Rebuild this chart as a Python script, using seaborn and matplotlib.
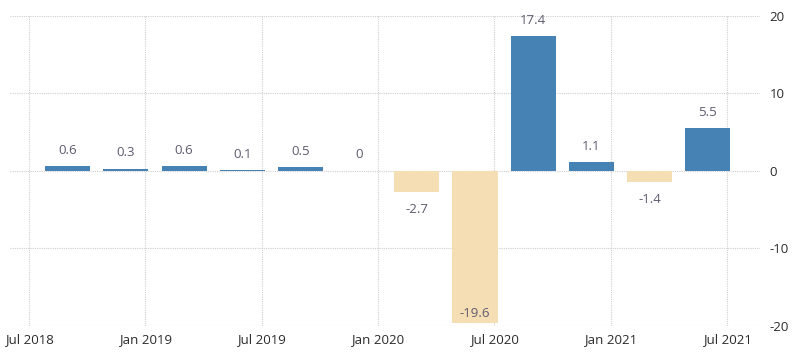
import matplotlib
matplotlib.use("Agg")
import matplotlib.pyplot as plt
import seaborn as sns
import pandas as pd

# Data
quarters = ["2018Q3", "2018Q4", "2019Q1", "2019Q2", "2019Q3", "2019Q4",
            "2020Q1", "2020Q2", "2020Q3", "2020Q4", "2021Q1", "2021Q2"]
values = [0.6, 0.3, 0.6, 0.1, 0.5, 0.0, -2.7, -19.6, 17.4, 1.1, -1.4, 5.5]
tick_labels = ["Jul 2018", "Jan 2019", "Jul 2019", "Jan 2020", "Jul 2020", "Jan 2021", "Jul 2021"]
y_ticks = [-20, -10, 0, 10, 20]

# months since Jul 2018 (bars sit two months after the quarter start)
months = [2 + 3 * i for i in range(len(values))]
df = pd.DataFrame({"month": months, "value": values,
                   "sign": ["pos" if v >= 0 else "neg" for v in values]})

sns.set_theme(style="white")
plt.rcParams['font.family'] = ['Open Sans', 'DejaVu Sans']
plt.rcParams['axes.unicode_minus'] = False

fig = plt.figure(figsize=(8, 3.55), dpi=100)
ax = fig.add_axes([0.0125, 0.082, 0.9375, 0.873])

sns.barplot(data=df, x="month", y="value", hue="sign", native_scale=True,
            palette={"pos": "#4682b4", "neg": "#f5deb3"}, dodge=False,
            width=0.775, legend=False, ax=ax, linewidth=0, saturation=1)

lab_kw = dict(textcoords="offset points", ha="center", va="center",
              fontsize=9.5, color="#5f5a6e")
for m, v in zip(months, values):
    if v >= 0:
        ax.annotate(f"{v:g}", (m, v), xytext=(0, 11.5), **lab_kw)
    elif v > -17:
        ax.annotate(f"{v:g}", (m, v), xytext=(0, -12.5), **lab_kw)
    else:
        ax.annotate(f"{v:g}", (m, v), xytext=(0, 7), **lab_kw)

ax.set_xlim(-0.98, 37.7)
ax.set_ylim(-20, 20)
ax.set_xticks(list(range(0, 37, 6)))
ax.set_xticklabels(tick_labels)
ax.set_yticks(y_ticks)
ax.yaxis.tick_right()
ax.tick_params(axis="both", length=0, labelsize=9.5, colors="#2b2b2b")
ax.tick_params(axis="y", pad=7)
ax.tick_params(axis="x", pad=5)
ax.set_xlabel("")
ax.set_ylabel("")
ax.grid(True, linestyle=(0, (1, 1)), color="#cfcfcf", linewidth=0.8)
ax.set_axisbelow(True)
for s in ax.spines.values():
    s.set_visible(False)

fig.savefig("out.png", dpi=100)
